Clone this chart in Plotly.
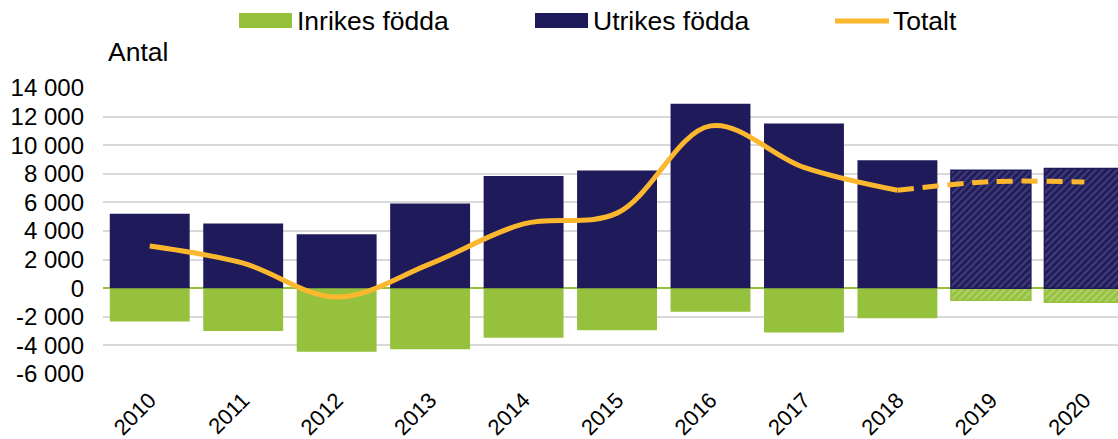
import plotly.graph_objects as go

years = ["2010", "2011", "2012", "2013", "2014", "2015", "2016", "2017", "2018", "2019", "2020"]
utrikes = [5200, 4520, 3780, 5920, 7850, 8230, 12890, 11520, 8950, 8250, 8370]
inrikes = [-2330, -2990, -4450, -4270, -3470, -2940, -1650, -3100, -2100, -840, -980]
totalt_solid_years = ["2010", "2011", "2012", "2013", "2014", "2015", "2016", "2017", "2018"]
totalt_solid = [2950, 1750, -620, 1700, 4500, 5250, 11350, 8450, 6850]
totalt_prog_years = ["2018", "2019", "2020"]
totalt_prog = [6850, 7450, 7420]
forecast = [False] * 9 + [True, True]

y_tickvals = [-6000, -4000, -2000, 0, 2000, 4000, 6000, 8000, 10000, 12000, 14000]
y_ticktext = ["-6 000", "-4 000", "-2 000", "0", "2 000", "4 000", "6 000", "8 000", "10 000", "12 000", "14 000"]

NAVY = "#1F1A5A"
GREEN = "#95C13D"
ORANGE = "#FBB82F"
FONT = "Liberation Sans, Arial, sans-serif"

W, H = 1118, 439
ML, MR, MT, MB = 103, 0, 88, 65
PW = W - ML - MR
PH = H - MT - MB


def px_x(p):
    return (p - ML) / PW


def px_y(p):
    return (H - MB - p) / PH


fig = go.Figure()

fig.add_trace(go.Bar(
    x=years, y=inrikes, name="Inrikes födda",
    marker=dict(
        color=GREEN,
        line=dict(color=[GREEN if f else "rgba(0,0,0,0)" for f in forecast],
                  width=[1.5 if f else 0 for f in forecast]),
        pattern=dict(shape=["/" if f else "" for f in forecast],
                     fgcolor="#C8E29A", bgcolor=GREEN, size=5, solidity=0.45),
    ),
    showlegend=False,
))
fig.add_trace(go.Bar(
    x=years, y=utrikes, name="Utrikes födda",
    marker=dict(
        color=NAVY,
        line=dict(color=NAVY, width=[1.5 if f else 0 for f in forecast]),
        pattern=dict(shape=["/" if f else "" for f in forecast],
                     fgcolor="#5E5F92", bgcolor=NAVY, size=5, solidity=0.45),
    ),
    showlegend=False,
))
fig.add_trace(go.Scatter(
    x=totalt_solid_years, y=totalt_solid, name="Totalt", mode="lines",
    line=dict(color=ORANGE, width=5, shape="spline", smoothing=1.0),
    showlegend=False,
))
fig.add_trace(go.Scatter(
    x=totalt_prog_years, y=totalt_prog, name="Totalt prognos", mode="lines",
    line=dict(color=ORANGE, width=5, shape="spline", dash="16px,9px"),
    showlegend=False,
))

shapes = [
    dict(type="rect", xref="paper", yref="paper",
         x0=px_x(239), x1=px_x(292), y0=px_y(28), y1=px_y(13),
         fillcolor=GREEN, line=dict(width=0)),
    dict(type="rect", xref="paper", yref="paper",
         x0=px_x(535), x1=px_x(588), y0=px_y(28), y1=px_y(13),
         fillcolor=NAVY, line=dict(width=0)),
    dict(type="line", xref="paper", yref="paper",
         x0=px_x(835), x1=px_x(889), y0=px_y(21), y1=px_y(21),
         line=dict(color=ORANGE, width=5)),
]

LF = 26.5
annotations = [
    dict(text="Inrikes födda", x=px_x(295), y=px_y(21), xref="paper", yref="paper",
         xanchor="left", yanchor="middle", showarrow=False, font=dict(size=LF, color="#000000", family=FONT)),
    dict(text="Utrikes födda", x=px_x(591), y=px_y(21), xref="paper", yref="paper",
         xanchor="left", yanchor="middle", showarrow=False, font=dict(size=LF, color="#000000", family=FONT)),
    dict(text="Totalt", x=px_x(891), y=px_y(21), xref="paper", yref="paper",
         xanchor="left", yanchor="middle", showarrow=False, font=dict(size=LF, color="#000000", family=FONT)),
    dict(text="Antal", x=px_x(106), y=px_y(52), xref="paper", yref="paper",
         xanchor="left", yanchor="middle", showarrow=False, font=dict(size=LF, color="#000000", family=FONT)),
]

fig.update_layout(
    width=W, height=H,
    margin=dict(l=ML, r=MR, t=MT, b=MB, pad=0, autoexpand=False),
    paper_bgcolor="white", plot_bgcolor="white",
    barmode="relative", bargap=0.145,
    font=dict(family=FONT, size=24, color="#000000"),
    shapes=shapes, annotations=annotations,
    showlegend=False,
    xaxis=dict(type="category", range=[-0.5, 10.36], tickangle=-45,
               showgrid=False, showline=False, ticks="", automargin=False,
               ticklabelstandoff=8,
               tickfont=dict(size=22, family=FONT, color="#000000")),
    yaxis=dict(range=[-6000, 14000], tickvals=y_tickvals, ticktext=y_ticktext,
               showgrid=True, gridcolor="#D9D9D9", gridwidth=1.5,
               zeroline=True, zerolinecolor=GREEN, zerolinewidth=1.5,
               showline=False, ticks="", ticklabelstandoff=18, automargin=False,
               tickfont=dict(size=24, family=FONT, color="#000000")),
)

# the page body has a default 8px margin; remove it so the figure fills the window
fig.write_html("out.html", config={"displayModeBar": False},
               post_script="document.body.style.margin='0';")
